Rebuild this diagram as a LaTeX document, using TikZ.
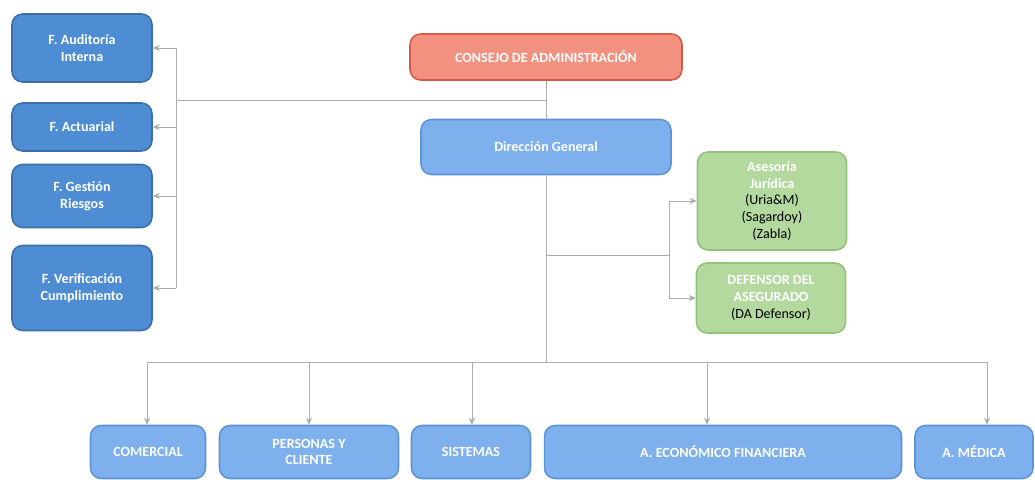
\documentclass[tikz,border=0pt]{standalone}
\usepackage{fontspec}
\setmainfont{Carlito}
\usepackage{xcolor}
\usetikzlibrary{arrows.meta}

\definecolor{funcazul}{HTML}{4E8DD3}
\definecolor{funcborde}{HTML}{3B6FA8}
\definecolor{areaazul}{HTML}{7DB0EC}
\definecolor{areaborde}{HTML}{5E93D6}
\definecolor{consejorojo}{HTML}{F2917F}
\definecolor{consejoborde}{HTML}{D65A48}
\definecolor{asesorverde}{HTML}{B3D99F}
\definecolor{asesorborde}{HTML}{93C27A}

\tikzset{
  caja/.style={rounded corners=6pt, line width=0.9pt, align=center, inner sep=2pt,
    text=white, font=\fontsize{8}{9.5}\selectfont\bfseries},
  funcion/.style={caja, fill=funcazul, draw=funcborde, minimum width=2.8cm},
  area/.style={caja, fill=areaazul, draw=areaborde, minimum height=1.06cm},
  asesor/.style={caja, fill=asesorverde, draw=asesorborde, minimum width=2.98cm},
  linea/.style={draw=gray!65, line width=0.45pt},
  flecha/.style={linea, -{Stealth[length=4pt,width=3.5pt]}},
}

\begin{document}
\begin{tikzpicture}[x=0.02cm,y=-0.02cm]
	\useasboundingbox (0,0) rectangle (1035,480);

	% funciones de control
	\node[funcion, minimum height=1.36cm] (auditoria) at (82,48) {F. Auditoría\\Interna};
	\node[funcion, minimum height=0.96cm] (actuarial) at (82,127) {F. Actuarial};
	\node[funcion, minimum height=1.26cm] (riesgos) at (82,196) {F. Gestión\\Riesgos};
	\node[funcion, minimum height=1.7cm] (verificacion) at (82,288) {F. Verificación\\Cumplimiento};

	% organos de gobierno
	\node[caja, fill=consejorojo, draw=consejoborde, minimum width=5.44cm, minimum height=0.92cm]
		(consejo) at (546,57) {CONSEJO DE ADMINISTRACIÓN};
	\node[caja, fill=areaazul, draw=areaborde, minimum width=5cm, minimum height=1.1cm]
		(direccion) at (546,147) {Dirección General};

	% asesores externos
	\node[asesor, minimum height=1.96cm] (juridica) at (772,201)
		{Asesoría\\Jurídica\\\textcolor{black}{\mdseries (Uria\&M)}\\\textcolor{black}{\mdseries (Sagardoy)}\\\textcolor{black}{\mdseries (Zabla)}};
	\node[asesor, minimum height=1.4cm] (defensor) at (771,298)
		{DEFENSOR DEL\\ASEGURADO\\\textcolor{black}{\mdseries (DA Defensor)}};

	% areas
	\node[area, minimum width=2.3cm] (comercial) at (148,452) {COMERCIAL};
	\node[area, minimum width=3.58cm] (personas) at (309,452) {PERSONAS Y\\CLIENTE};
	\node[area, minimum width=2.38cm] (sistemas) at (471,452) {SISTEMAS};
	\node[area, minimum width=7.14cm] (economico) at (723,452) {A. ECONÓMICO FINANCIERA};
	\node[area, minimum width=2.36cm] (medica) at (974,452) {A. MÉDICA};

	% lineas
	\coordinate (ctrl) at (546,100);
	\coordinate (bus) at (176,100);
	\coordinate (ramal) at (546,255);
	\coordinate (aseso) at (669,255);
	\coordinate (base) at (546,362);

	\draw[linea] (consejo.south) -- (ctrl) -- (bus);
	\draw[linea] (bus |- auditoria.east) -- (bus |- verificacion.east);
	\draw[flecha] (bus |- auditoria.east) -- (auditoria.east);
	\draw[flecha] (bus |- actuarial.east) -- (actuarial.east);
	\draw[flecha] (bus |- riesgos.east) -- (riesgos.east);
	\draw[flecha] (bus |- verificacion.east) -- (verificacion.east);

	\draw[linea] (ctrl) -- (direccion.north);
	\draw[linea] (direccion.south) -- (base);
	\draw[linea] (ramal) -- (aseso);
	\draw[linea] (aseso |- juridica.west) -- (aseso |- defensor.west);
	\draw[flecha] (aseso |- juridica.west) -- (juridica.west);
	\draw[flecha] (aseso |- defensor.west) -- (defensor.west);

	\coordinate (b1) at (147,362);
	\coordinate (b2) at (309,362);
	\coordinate (b3) at (472,362);
	\coordinate (b4) at (707,362);
	\coordinate (b5) at (987,362);
	\draw[linea] (b1) -- (b5);
	\draw[flecha] (b1) -- (b1 |- comercial.north);
	\draw[flecha] (b2) -- (b2 |- personas.north);
	\draw[flecha] (b3) -- (b3 |- sistemas.north);
	\draw[flecha] (b4) -- (b4 |- economico.north);
	\draw[flecha] (b5) -- (b5 |- medica.north);
\end{tikzpicture}
\end{document}
